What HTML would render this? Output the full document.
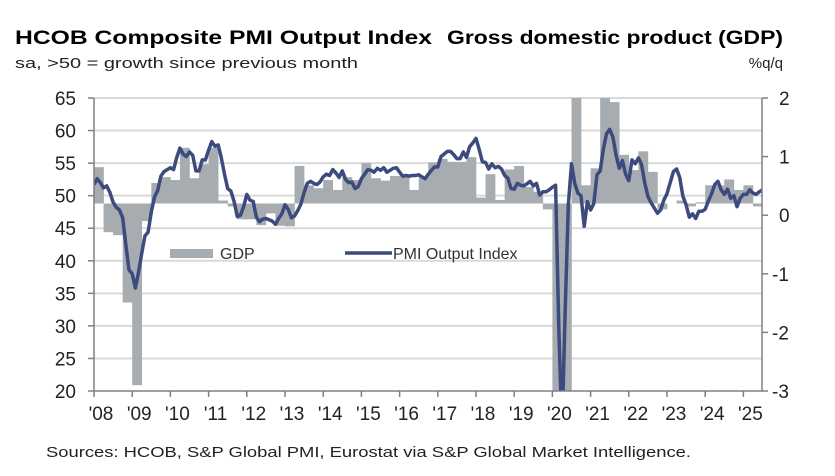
<!DOCTYPE html>
<html><head><meta charset="utf-8"><style>
html,body{margin:0;padding:0;background:#fff;}
svg{display:block;font-family:"Liberation Sans",Arial,sans-serif;}
</style></head><body>
<svg id="chart" width="835" height="476" viewBox="0 0 835 476">
<text x="15" y="44" font-size="19" font-weight="bold" textLength="417" lengthAdjust="spacingAndGlyphs">HCOB Composite PMI Output Index</text>
<text x="447" y="44" font-size="19" font-weight="bold" textLength="336" lengthAdjust="spacingAndGlyphs">Gross domestic product (GDP)</text>
<text x="15" y="68" font-size="15" fill="#222" textLength="343" lengthAdjust="spacingAndGlyphs">sa, &gt;50 = growth  since previous  month</text>
<text x="783" y="68" font-size="15" fill="#222" text-anchor="end">%q/q</text>
<g id="grid"></g>
<g id="bars"></g>
<g id="line"></g>
<g id="axes"></g>
<g>
<rect x="170" y="249" width="43" height="9" fill="#a7acb1"/>
<text x="220" y="259" font-size="16" fill="#333">GDP</text>
<line x1="345" y1="253" x2="392" y2="253" stroke="#3c4a7e" stroke-width="3.5"/>
<text x="393" y="259" font-size="16" fill="#333">PMI Output Index</text>
</g>
<text x="46" y="457" font-size="15" fill="#222" textLength="645" lengthAdjust="spacingAndGlyphs">Sources: HCOB, S&amp;P Global PMI, Eurostat via S&amp;P Global Market Intelligence.</text>
</svg>
<script>
const leftTicks=[65,60,55,50,45,40,35,30,25,20];
const rightTicks=[2,1,0,-1,-2,-3];
const yearLabels=["'08","'09","'10","'11","'12","'13","'14","'15","'16","'17","'18","'19","'20","'21","'22","'23","'24","'25"];
const gdp=[0.82,-0.29,-0.34,-1.49,-2.9,-0.1,0.55,0.65,0.6,1.15,0.63,0.87,1.15,0.25,0.15,-0.07,
-0.07,-0.17,0.03,-0.18,-0.19,0.84,0.51,0.46,0.6,0.43,0.65,0.6,0.89,0.63,0.59,0.67,
0.68,0.43,0.65,0.9,0.96,0.91,0.91,0.99,0.3,0.7,0.26,0.78,0.84,0.48,0.4,0.1,
-3.5,-11,12,0.51,0.8,2.2,1.93,1.03,0.77,1.09,0.74,0.1,0.2,0.25,0.15,0.22,
0.51,0.51,0.61,0.43,0.51,0.15];
const pmi=[51.7,52.6,52.0,51.2,51.5,50.5,49.0,48.2,47.8,46.6,42.5,38.6,
38.0,35.8,38.3,41.2,43.8,44.4,47.5,49.8,50.8,53.0,53.7,54.0,
54.3,54.0,55.9,57.3,56.4,56.0,56.7,56.2,53.8,53.8,55.5,55.5,
57.0,58.3,57.6,57.8,55.8,53.3,51.1,50.7,49.1,46.8,47.0,48.3,
50.2,49.3,49.1,46.7,46.0,46.4,46.5,46.3,46.1,45.6,46.5,47.2,
48.6,47.9,46.6,46.9,47.7,48.7,50.5,51.9,52.2,51.9,51.7,52.1,
52.9,53.3,53.1,54.0,53.5,52.8,53.8,52.5,52.0,52.1,51.1,51.4,
52.6,53.3,54.0,53.9,53.6,54.2,53.9,54.3,53.6,53.9,54.2,54.3,
53.6,53.0,53.1,53.0,53.1,53.1,53.2,52.9,52.6,53.3,53.9,54.4,
54.4,56.0,56.4,56.8,56.8,56.3,55.7,55.7,56.7,55.9,57.5,58.1,
58.8,57.1,55.2,55.1,54.1,54.9,54.3,54.5,54.1,53.1,52.7,51.1,
51.0,51.9,51.6,51.5,51.8,52.2,51.5,51.9,50.1,50.6,50.6,50.9,
51.3,51.6,29.7,13.6,31.9,48.5,54.9,51.9,50.4,50.0,45.3,49.1,
47.8,48.8,53.2,53.8,57.1,59.5,60.2,59.0,56.2,54.2,55.4,53.3,
52.3,55.5,54.9,55.8,54.8,52.0,49.9,48.9,48.1,47.3,47.8,49.3,
50.3,52.0,53.7,54.1,52.8,49.9,48.6,46.7,47.2,46.5,47.6,47.6,
47.9,49.2,50.3,51.7,52.2,50.9,50.2,51.0,49.6,50.0,48.3,49.6,
50.2,50.2,50.9,50.4,50.2,50.6,50.9];
const gdpBase=0.2;

const NS="http://www.w3.org/2000/svg";
const X0=94,X1=762,YT=98,YB=391,YEARW=38.2;
const yL=v=>YT+(65-v)*(YB-YT)/45;
const yR=v=>YT+(2-v)*(YB-YT)/5;
const xYear=t=>X0+t*YEARW;
const clampY=y=>Math.max(YT,Math.min(YB,y));
function mk(tag,attrs,parent){const e=document.createElementNS(NS,tag);for(const k in attrs)e.setAttribute(k,attrs[k]);parent.appendChild(e);return e;}
const grid=document.getElementById('grid'),bars=document.getElementById('bars'),line=document.getElementById('line'),axes=document.getElementById('axes');

leftTicks.forEach(v=>{
  const y=yL(v);
  if(v!==20){const g=mk('line',{x1:X0,x2:X1,y1:y,y2:y,stroke:'#d9d9d9','stroke-width':2},grid);
  
  }
  const tk=mk('line',{x1:X0-6,x2:X0,y1:y,y2:y,stroke:'#808080','stroke-width':1.5},axes);
  
  
  const t=mk('text',{x:76,y:y+7,'font-size':19,'text-anchor':'end',fill:'#222'},axes);
  t.textContent=v;
  
  
});
rightTicks.forEach(v=>{
  const y=yR(v);
  const tk=mk('line',{x1:X1,x2:X1+6,y1:y,y2:y,stroke:'#808080','stroke-width':1.5},axes);
  
  
  const t=mk('text',{x:v<0?772:779,y:y+7,'font-size':19,fill:'#222'},axes);
  t.textContent=v;
  
  
});
const la=mk('line',{x1:X0,x2:X0,y1:YT,y2:YB,stroke:'#808080','stroke-width':1.5},axes);


const ra=mk('line',{x1:X1,x2:X1,y1:YT,y2:YB,stroke:'#808080','stroke-width':1.5},axes);


const xa=mk('line',{x1:X0,x2:X1,y1:YB,y2:YB,stroke:'#808080','stroke-width':1.5},axes);


yearLabels.forEach((lab,i)=>{
  const x=xYear(i);
  const tk=mk('line',{x1:x,x2:x,y1:YB,y2:YB+6,stroke:'#808080','stroke-width':1.5},axes);
  
  
  const t=mk('text',{x:x+7,y:420,'font-size':19,'text-anchor':'middle',fill:'#222'},axes);
  t.textContent=lab;
  
  
});
const qw=YEARW/4;
gdp.forEach((v,i)=>{
  const x=xYear(i/4);
  const y0=yR(gdpBase),y1=clampY(yR(v));
  const r=mk('rect',{x:x,width:qw+0.3,y:Math.min(y0,y1),height:Math.abs(y1-y0),fill:'#a7acb1'},bars);
  
  
});
const cp=mk('clipPath',{id:'clip'},line);
mk('rect',{x:X0,y:YT,width:X1-X0,height:YB-YT},cp);
const d=pmi.map((v,i)=>(i?'L':'M')+xYear(i/12).toFixed(1)+' '+yL(v).toFixed(1)).join(' ');
const p=mk('path',{d:d,fill:'none',stroke:'#3c4a7e','stroke-width':3.5,'stroke-linejoin':'round','clip-path':'url(#clip)'},line);


</script>
</body></html>
